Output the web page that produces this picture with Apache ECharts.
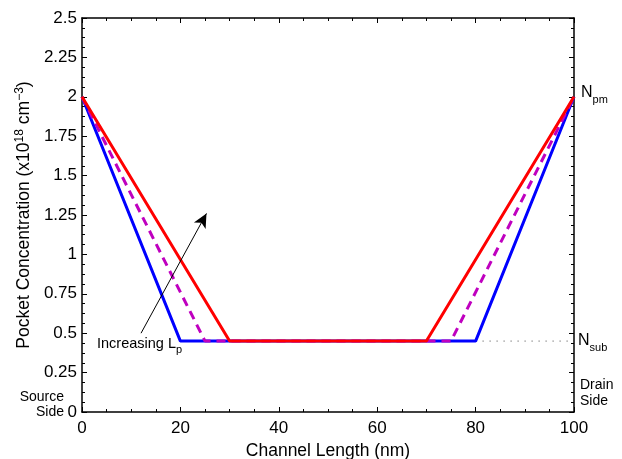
<!DOCTYPE html>
<html><head><meta charset="utf-8">
<script src="https://cdn.jsdelivr.net/npm/echarts@6/dist/echarts.min.js"></script>
<style>html,body{margin:0;padding:0;background:#fff}#c{width:622px;height:459px}</style>
</head><body><div id="c"></div>
<script>
const xBlue = [0, 20, 80, 100];
const yBlue = [2, 0.45, 0.45, 2];
const xMag = [0, 25, 75, 100];
const yMag = [2, 0.45, 0.45, 2];
const xRed = [0, 30, 70, 100];
const yRed = [2, 0.45, 0.45, 2];
const xSub = [80, 100];
const ySub = [0.45, 0.45];
const arrowFrom = [12, 0.5];
const arrowTo = [25.3, 1.26];
const xTicks = [0, 20, 40, 60, 80, 100];
const yTicks = [0, 0.25, 0.5, 0.75, 1, 1.25, 1.5, 1.75, 2, 2.25, 2.5];

const zip = (xs, ys) => xs.map((x, i) => [x, ys[i]]);
const FONT = 'Liberation Sans, Arial, sans-serif';
const chart = echarts.init(document.getElementById('c'), null, {renderer: 'canvas'});
const axisCommon = {
  axisLine: {show: true, onZero: false, lineStyle: {color: '#000', width: 1.5}},
  axisTick: {show: true, inside: true, length: 5, lineStyle: {color: '#000', width: 1}},
  minorTick: {show: true, splitNumber: 4, length: 3, lineStyle: {color: '#000', width: 1}},
  splitLine: {show: false}
};
const yLabel = v => {
  const s = yTicks.find(t => Math.abs(t - v) < 1e-9);
  return s === undefined ? '' : String(s);
};
const xLabel = v => {
  const s = xTicks.find(t => Math.abs(t - v) < 1e-9);
  return s === undefined ? '' : String(s);
};
chart.setOption({
  animation: false,
  backgroundColor: '#fff',
  grid: {left: 82, right: 48, top: 18, bottom: 47, containLabel: false, outerBoundsMode: 'none'},
  xAxis: [
    Object.assign({type: 'value', min: 0, max: 100, interval: 20, position: 'bottom',
      axisLabel: {color: '#000', fontSize: 17, fontFamily: FONT, margin: 8, formatter: xLabel},
      name: 'Channel Length (nm)', nameLocation: 'middle', nameGap: 26,
      nameTextStyle: {color: '#000', fontSize: 17.5, fontFamily: FONT}}, axisCommon),
    Object.assign({type: 'value', min: 0, max: 100, interval: 20, position: 'top',
      axisLabel: {show: false}}, axisCommon)
  ],
  yAxis: [
    Object.assign({type: 'value', min: 0, max: 2.5, interval: 0.25, position: 'left',
      minorTick: Object.assign({}, axisCommon.minorTick, {splitNumber: 2}),
      axisLabel: {color: '#000', fontSize: 17, fontFamily: FONT, margin: 5, formatter: yLabel},
      name: '{n|Pocket Concentration (x10}{s|18}{n| cm}{s|−3}{n|)}', nameLocation: 'middle', nameGap: 47,
      nameTextStyle: {color: '#000', fontFamily: FONT,
        rich: {n: {fontSize: 17.5, fontFamily: FONT, color: '#000'},
               s: {fontSize: 12, fontFamily: FONT, color: '#000', verticalAlign: 'bottom', padding: [0, 0, 9, 0]}}}}, axisCommon),
    Object.assign({type: 'value', min: 0, max: 2.5, interval: 0.25, position: 'right',
      minorTick: Object.assign({}, axisCommon.minorTick, {splitNumber: 2}),
      axisLabel: {show: false}}, axisCommon)
  ],
  series: [
    {type: 'line', data: zip(xSub, ySub), symbol: 'none', silent: true,
      lineStyle: {color: '#444', width: 1, type: [1, 6]}},
    {type: 'line', data: zip(xBlue, yBlue), symbol: 'none', lineStyle: {color: '#0000ff', width: 3}},
    {type: 'line', data: zip(xMag, yMag), symbol: 'none', lineStyle: {color: '#bf00bf', width: 3, type: [9, 6]}},
    {type: 'line', data: zip(xRed, yRed), symbol: 'none', lineStyle: {color: '#ff0000', width: 3},
      markLine: {silent: true, symbol: ['none', 'arrow'], symbolSize: [10, 14], label: {show: false},
        lineStyle: {color: '#000', width: 1, type: 'solid'},
        data: [[{coord: arrowFrom}, {coord: arrowTo}]]}}
  ],
  graphic: [
    {type: 'text', left: 97, top: 336, style: {rich: {n: {fontSize: 14.5, fontFamily: FONT, fill: '#000'}, s: {fontSize: 11, fontFamily: FONT, fill: '#000', padding: [12, 0, 0, 0]}}, text: '{n|Increasing L}{s|p}'}},
    {type: 'text', left: 581, top: 85, style: {rich: {n: {fontSize: 16, fontFamily: FONT, fill: '#000'}, s: {fontSize: 11, fontFamily: FONT, fill: '#000', padding: [13, 0, 0, 0]}}, text: '{n|N}{s|pm}'}},
    {type: 'text', left: 578, top: 333, style: {rich: {n: {fontSize: 16, fontFamily: FONT, fill: '#000'}, s: {fontSize: 11, fontFamily: FONT, fill: '#000', padding: [13, 0, 0, 0]}}, text: '{n|N}{s|sub}'}},
    {type: 'text', left: 580, top: 377, style: {text: 'Drain\nSide', fontSize: 14, lineHeight: 16, fontFamily: FONT, fill: '#000'}},
    {type: 'text', x: 64, y: 390, style: {text: 'Source\nSide', fontSize: 14, lineHeight: 15, fontFamily: FONT, fill: '#000', align: 'right', verticalAlign: 'top'}}
  ]
});
</script></body></html>
